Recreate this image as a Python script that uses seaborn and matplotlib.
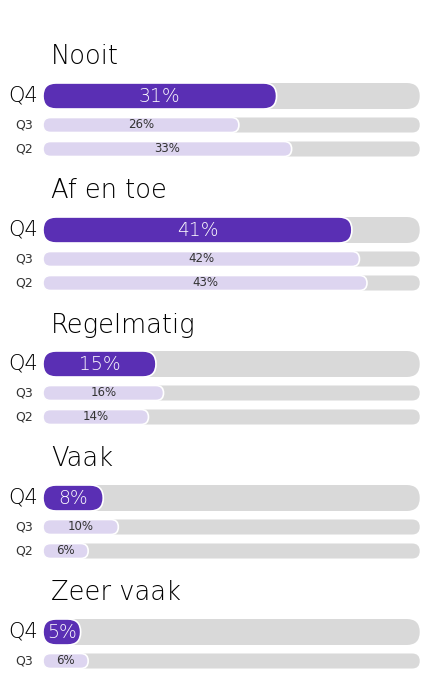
import numpy as np
import pandas as pd
import matplotlib.pyplot as plt
import seaborn as sns
from matplotlib.patches import FancyBboxPatch, Rectangle

## values (share in %)
categories = ['Nooit', 'Af en toe', 'Regelmatig', 'Vaak', 'Zeer vaak']
quarters = ['Q4', 'Q3', 'Q2']
q4_values = [31, 41, 15, 8, 5]
q3_values = [26, 42, 16, 10, 6]
q2_values = [33, 43, 14, 6]      # Zeer vaak Q2 is cut off in the picture
scale_max = 50                    # grey track = 50%

PURPLE = '#5A2FB4'
LAVENDER = '#DDD5F0'
GREY = '#D9D9D9'
INK = '#111111'

## layout in pixels from the top of the figure
W_PX, H_PX = 422, 678
GROUP_STEP = 134
TITLE_Y = 57
ROW_OFFSET = {'Q4': 39, 'Q3': 68, 'Q2': 92}
BAR_PX = {'Q4': 26, 'Q3': 15, 'Q2': 15}

values = {'Q4': q4_values, 'Q3': q3_values, 'Q2': q2_values}
rows = []
for i, cat in enumerate(categories):
    for q in quarters:
        if i < len(values[q]):
            rows.append({'category': cat, 'quarter': q, 'value': values[q][i],
                         'y': TITLE_Y + GROUP_STEP * i + ROW_OFFSET[q]})
df = pd.DataFrame(rows)
df['track'] = scale_max

sns.set_theme(style='white')
plt.rcParams['font.family'] = ['DejaVu Sans']

fig = plt.figure(figsize=(W_PX / 100, H_PX / 100), dpi=100)
ax = fig.add_axes([0, 0, 1, 1])

big = df[df['quarter'] == 'Q4']
small = df[df['quarter'] != 'Q4']

def native_step(d):
    return np.diff(np.sort(d['y'].unique())).min()

# grey tracks first, coloured bars on top
for sub, q in ((big, 'Q4'), (small, 'Q3')):
    sns.barplot(data=sub, x='track', y='y', orient='y', native_scale=True,
                width=BAR_PX[q] / native_step(sub), color=GREY, saturation=1,
                errorbar=None, ax=ax)
n_grey = len(ax.patches)
for sub, q, col in ((big, 'Q4', PURPLE), (small, 'Q3', LAVENDER)):
    sns.barplot(data=sub, x='value', y='y', orient='y', native_scale=True,
                width=BAR_PX[q] / native_step(sub), color=col, saturation=1,
                errorbar=None, ax=ax)

x_left = -43 / ((W_PX - 45) / scale_max)
ax.set_xlim(x_left, scale_max + 0.3)
ax.set_ylim(H_PX, 0)
ax.axis('off')

# turn the rectangles into pill shapes
xpp = (ax.get_xlim()[1] - ax.get_xlim()[0]) / W_PX
aspect = 1 / xpp
bars = [p for p in ax.patches if isinstance(p, Rectangle)]
for k, p in enumerate(bars):
    x, y, w, h = p.get_x(), p.get_y(), p.get_width(), p.get_height()
    fc = p.get_facecolor()
    p.remove()
    colored = k >= n_grey
    r = abs(h) / (2 * aspect)
    ax.add_patch(FancyBboxPatch((x, y), w, h,
                                boxstyle=f'round,pad=0,rounding_size={r}',
                                mutation_aspect=aspect, facecolor=fc,
                                edgecolor='white' if colored else 'none',
                                linewidth=1.2 if colored else 0))

# texts
for i, cat in enumerate(categories):
    ax.annotate(cat, (0, TITLE_Y + GROUP_STEP * i), xytext=(6, 0),
                textcoords='offset points', ha='left', va='center',
                fontsize=18.5, color='black', fontweight='light')
for _, r in df.iterrows():
    is_q4 = r['quarter'] == 'Q4'
    ax.annotate(r['quarter'], (0, r['y']), xytext=(-3.5 if is_q4 else -7.5, 0),
                textcoords='offset points', ha='right', va='center',
                fontsize=15 if is_q4 else 9, color='black' if is_q4 else '#333333',
                fontweight='light' if is_q4 else 'normal')
    ax.text(r['value'] / 2, r['y'], f"{r['value']}%", ha='center', va='center',
            fontsize=13.5 if is_q4 else 8.5,
            color='white' if is_q4 else '#333333',
            fontweight='light' if is_q4 else 'normal')

fig.savefig('out.png', dpi=100)
